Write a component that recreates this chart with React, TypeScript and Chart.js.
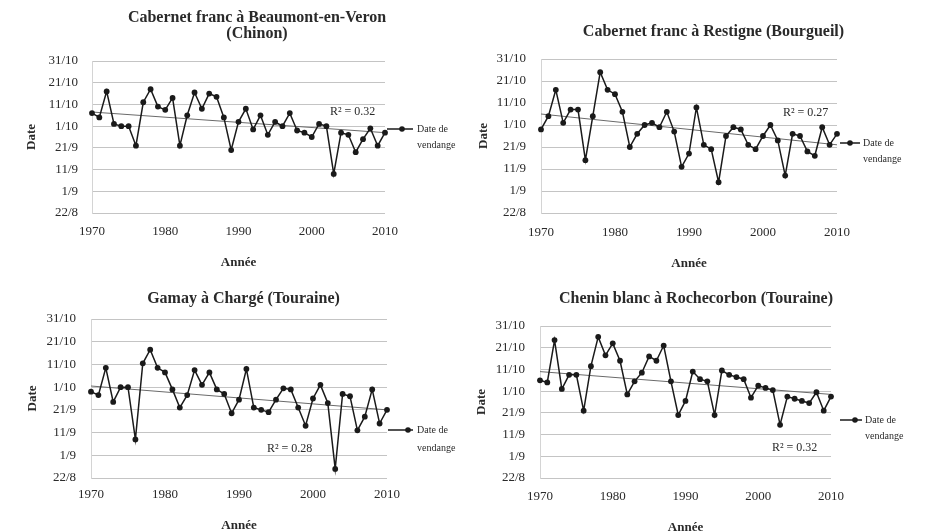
import React, { useEffect, useRef } from "react";
import { Chart, registerables } from "chart.js";

Chart.register(...registerables);

const FONT = '"Liberation Serif", "Times New Roman", serif';

// Years on the x axis (one harvest per year)
const years = [
  1970, 1971, 1972, 1973, 1974, 1975, 1976, 1977, 1978, 1979,
  1980, 1981, 1982, 1983, 1984, 1985, 1986, 1987, 1988, 1989,
  1990, 1991, 1992, 1993, 1994, 1995, 1996, 1997, 1998, 1999,
  2000, 2001, 2002, 2003, 2004, 2005, 2006, 2007, 2008, 2009,
  2010,
];

// Harvest dates as day of year (22/8 = 234 ... 31/10 = 304)
const yTickValues = [234, 244, 254, 264, 274, 284, 294, 304];
const yTickLabels = ["22/8", "1/9", "11/9", "21/9", "1/10", "11/10", "21/10", "31/10"];
const xTickValues = [1970, 1980, 1990, 2000, 2010];
const xTickLabels = ["1970", "1980", "1990", "2000", "2010"];

const chinonDates = [
  280, 278, 290, 275, 274, 274, 265, 285, 291, 283,
  281.5, 287, 265, 279, 289.5, 282, 289, 287.5, 278, 263,
  276, 282, 272.5, 279, 270, 276, 274, 280, 272, 271,
  269, 275, 274, 252, 271, 270, 262, 268, 273, 265,
  271,
];
const bourgueilDates = [
  272, 278, 290, 275, 281, 281, 258, 278, 298, 290,
  288, 280, 264, 270, 274, 275, 273, 280, 271, 255,
  261, 282, 265, 263, 248, 269, 273, 272, 265, 263,
  269, 274, 267, 251, 270, 269, 262, 260, 273, 265,
  270,
];
const gamayDates = [
  272, 270.5, 282.5, 267.5, 274, 274, 251, 284.5, 290.5, 282.5,
  280.5, 273, 265, 270.5, 281.5, 275, 280.5, 273, 271, 262.5,
  268.5, 282, 265, 264, 263, 268.5, 273.5, 273, 265, 257,
  269, 275, 267, 238, 271, 270, 255, 261, 273, 258,
  264,
];
const cheninDates = [
  279, 278, 297.5, 275, 281.5, 281.5, 265, 285.5, 299, 290.5,
  296, 288, 272.5, 278.5, 282.5, 290, 288, 295, 278.5, 263,
  269.5, 283, 279.5, 278.5, 263, 283.5, 281.5, 280.5, 279.5, 271,
  276.5, 275.5, 274.5, 258.5, 271.5, 270.5, 269.5, 268.5, 273.5, 265,
  271.5,
];

// Linear trend lines (value at 1970, value at 2010)
const chinonTrend = [280.5, 271];
const bourgueilTrend = [279, 265];
const gamayTrend = [274.5, 264];
const cheninTrend = [283, 272.5];

const r2Labels = ["R² = 0.32", "R² = 0.27", "R² = 0.28", "R² = 0.32"];
const legendLines = ["Date de", "vendange"];
const legendLabel = "Date de vendange";
const xTitle = "Année";
const yTitle = "Date";

const titles: (string | string[])[] = [
  ["Cabernet franc à Beaumont-en-Veron", "(Chinon)"],
  "Cabernet franc à Restigne (Bourgueil)",
  "Gamay à Chargé (Touraine)",
  "Chenin blanc à Rochecorbon (Touraine)",
];
const seriesList = [chinonDates, bourgueilDates, gamayDates, cheninDates];
const trendList = [chinonTrend, bourgueilTrend, gamayTrend, cheninTrend];

type Layout = {
  left: number; top: number; w: number; h: number;
  padL: number; wy: number; wyR: number; hx: number;
  tPadTop: number; tPadBottom: number;
  xTickPad: number; yTickPad: number;
  leg: { x1: number; x2: number; mx: number; y: number; tx: number; y2: number };
  r2: { x: number; y: number };
};

const layouts: Layout[] = [
  {
    left: 0, top: 0, w: 494, h: 270, padL: 20, wy: 72, wyR: 109, hx: 57,
    tPadTop: 10, tPadBottom: 19, xTickPad: 11, yTickPad: 14,
    leg: { x1: 387, x2: 413, mx: 402, y: 129, tx: 417, y2: 145 },
    r2: { x: 330, y: 112 },
  },
  {
    left: 463, top: 0, w: 492, h: 271, padL: 9, wy: 69, wyR: 118, hx: 58,
    tPadTop: 24, tPadBottom: 19, xTickPad: 12, yTickPad: 15,
    leg: { x1: 377, x2: 397, mx: 387, y: 143, tx: 400, y2: 159 },
    r2: { x: 320, y: 113 },
  },
  {
    left: 0, top: 266, w: 466, h: 267, padL: 21, wy: 70, wyR: 79, hx: 55,
    tPadTop: 25, tPadBottom: 12, xTickPad: 9, yTickPad: 15,
    leg: { x1: 388, x2: 413, mx: 408, y: 164, tx: 417, y2: 182 },
    r2: { x: 267, y: 183 },
  },
  {
    left: 462, top: 266, w: 460, h: 269, padL: 8, wy: 70, wyR: 91, hx: 57,
    tPadTop: 25, tPadBottom: 19, xTickPad: 11, yTickPad: 15,
    leg: { x1: 378, x2: 400, mx: 393, y: 154, tx: 403, y2: 170 },
    r2: { x: 310, y: 182 },
  },
];

const LINE = "#1a1a1a";
const TEXT = "#2a2a2a";
const GRID = "#c4c4c4";

function ChartPanel({ idx }: { idx: number }) {
  const ref = useRef<HTMLCanvasElement>(null);
  const L = layouts[idx];

  useEffect(() => {
    const canvas = ref.current;
    if (!canvas) return;
    const values = seriesList[idx];
    const trend = trendList[idx];

    const overlay = {
      id: "overlay" + idx,
      afterDraw(chart: any) {
        const ctx = chart.ctx as CanvasRenderingContext2D;
        const g = L.leg;
        ctx.save();
        ctx.strokeStyle = LINE;
        ctx.lineWidth = 1.5;
        ctx.beginPath();
        ctx.moveTo(g.x1, g.y);
        ctx.lineTo(g.x2, g.y);
        ctx.stroke();
        ctx.fillStyle = LINE;
        ctx.beginPath();
        ctx.arc(g.mx, g.y, 2.8, 0, Math.PI * 2);
        ctx.fill();
        ctx.fillStyle = TEXT;
        ctx.font = `10px ${FONT}`;
        ctx.textAlign = "left";
        ctx.textBaseline = "middle";
        ctx.fillText(legendLines[0], g.tx, g.y);
        ctx.fillText(legendLines[1], g.tx, g.y2);
        ctx.font = `12px ${FONT}`;
        ctx.fillText(r2Labels[idx], L.r2.x, L.r2.y);
        ctx.restore();
      },
    };

    const chart = new Chart(canvas, {
      type: "scatter",
      data: {
        datasets: [
          {
            label: legendLabel,
            data: years.map((x, i) => ({ x, y: values[i] })),
            showLine: true,
            clip: false,
            borderColor: LINE,
            borderWidth: 1.5,
            backgroundColor: LINE,
            pointBackgroundColor: LINE,
            pointBorderColor: LINE,
            pointRadius: 2.9,
            pointBorderWidth: 0,
            tension: 0,
          },
          {
            label: "Tendance",
            data: [
              { x: years[0], y: trend[0] },
              { x: years[years.length - 1], y: trend[1] },
            ],
            showLine: true,
            clip: false,
            borderColor: "#6a6a6a",
            borderWidth: 1,
            pointRadius: 0,
            tension: 0,
          },
        ],
      },
      options: {
        responsive: false,
        animation: false,
        events: [],
        layout: { padding: { left: L.padL, right: 0, top: 0, bottom: 0 } },
        plugins: {
          legend: { display: false },
          tooltip: { enabled: false },
          title: {
            display: true,
            text: titles[idx],
            color: TEXT,
            font: { family: FONT, size: 16, weight: "bold", lineHeight: "16px" },
            padding: { top: L.tPadTop, bottom: L.tPadBottom },
          },
        },
        scales: {
          x: {
            type: "linear",
            min: xTickValues[0],
            max: xTickValues[xTickValues.length - 1],
            grid: { display: false, drawTicks: false },
            border: { display: false },
            ticks: {
              stepSize: 10,
              padding: L.xTickPad,
              color: TEXT,
              font: { family: FONT, size: 13 },
              maxRotation: 0,
              callback: (v: any) => {
                const k = xTickValues.indexOf(Number(v));
                return k >= 0 ? xTickLabels[k] : "";
              },
            },
            title: {
              display: true,
              text: xTitle,
              color: TEXT,
              font: { family: FONT, size: 13, weight: "bold" },
              padding: { top: 0, bottom: 0 },
            },
            afterFit: (s: any) => { s.height = L.hx; },
          },
          y: {
            type: "linear",
            position: "left",
            min: yTickValues[0],
            max: yTickValues[yTickValues.length - 1],
            grid: { color: GRID, lineWidth: 1, drawTicks: false },
            border: { display: true, color: "#d4d4d4" },
            ticks: {
              stepSize: 10,
              padding: L.yTickPad,
              color: TEXT,
              font: { family: FONT, size: 13 },
              callback: (v: any) => {
                const k = yTickValues.indexOf(Number(v));
                return k >= 0 ? yTickLabels[k] : "";
              },
            },
            title: {
              display: true,
              text: yTitle,
              color: TEXT,
              font: { family: FONT, size: 13, weight: "bold" },
              padding: { top: 4, bottom: 4 },
            },
            afterFit: (s: any) => { s.width = L.wy; },
          },
          yRight: {
            type: "linear",
            position: "right",
            display: true,
            grid: { display: false, drawTicks: false },
            border: { display: false },
            ticks: { display: false },
            afterFit: (s: any) => { s.width = L.wyR; },
          },
        },
      } as any,
      plugins: [overlay],
    });
    return () => chart.destroy();
  }, [idx]);

  return (
    <canvas
      ref={ref}
      width={L.w}
      height={L.h}
      style={{ position: "absolute", left: L.left, top: L.top, width: L.w, height: L.h }}
    />
  );
}

export default function App() {
  return (
    <div
      style={{
        position: "fixed",
        left: 0,
        top: 0,
        width: 925,
        height: 532,
        overflow: "hidden",
        background: "#ffffff",
      }}
    >
      {[0, 1, 2, 3].map((i) => (
        <ChartPanel key={i} idx={i} />
      ))}
    </div>
  );
}
